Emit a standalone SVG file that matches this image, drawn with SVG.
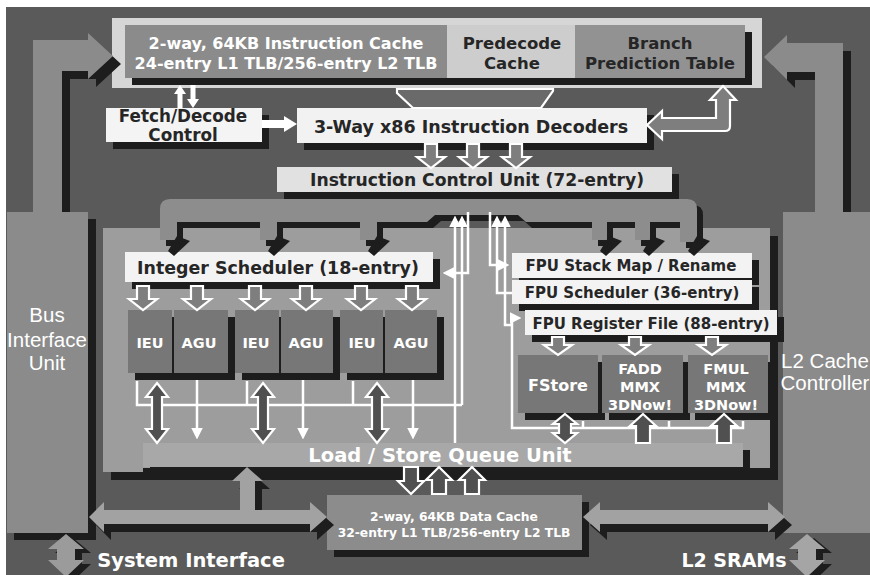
<svg xmlns="http://www.w3.org/2000/svg" width="870" height="575" viewBox="0 0 870 575">
<defs>
<style>
.t{font-family:"DejaVu Sans",Verdana,sans-serif;font-weight:bold;text-anchor:middle}
.w{fill:#fff}
.d{fill:#262626}
.a{font-family:"Liberation Sans",Arial,sans-serif;text-anchor:middle;fill:#fff}
.sh{fill:#1d1d1d}
.wb{fill:#f3f3f3}
.unit{fill:#777}
.ln{fill:none;stroke:#fff;stroke-width:2.5}
.ba{stroke:#fff;stroke-width:2.2}
.g1{fill:#7e7e7e}
.g2{fill:#505050}
.bus{fill:#8b8b8b}
.busl{fill:#a2a2a2}
</style>
<marker id="wh" viewBox="0 0 10 10" refX="7" refY="5" markerWidth="4.6" markerHeight="4.6" orient="auto" markerUnits="strokeWidth">
<path d="M0,0L10,5L0,10Z" fill="#fff"/>
</marker>
<path id="dn" d="M-6,0H6V13H14L0,24L-14,13H-6Z"/>
<path id="dnS" d="M-6,0H6V8H14L0,18L-14,8H-6Z"/>
<path id="lsDn" d="M-7,0H7V14H13L0,27L-13,14H-7Z"/>
<path id="lsUp" d="M0,0L13,13H7V27H-7V13H-13Z"/>
<path id="dbl" d="M0,0L11,14H5V46H11L0,60L-11,46H-5V14H-11Z"/>
<path id="dblS" d="M0,0L12,10H6V19H12L0,29L-12,19H-6V10H-12Z"/>
<path id="upS" d="M0,0L13,12H7V29H-7V12H-13Z"/>
<path id="tip" d="M17,0L30,5L14,20L8,15Z"/>
<path id="lbus" d="M33,212V40H88V33L113,56L88,79V71H62V212Z"/>
<path id="rbus" d="M843,212V43H787V35L764,57L787,80V72H815V212Z"/>
<path id="sysArr" d="M89,517L104,502V510H240V481H232L247,467L263,481H255V510H310V502L327,517L310,532V524H104V532Z"/>
<path id="l2Arr" d="M583,517L600,502V510H768V502L785,517L768,532V524H600V532Z"/>
<path id="vArr" d="M0,0L18,15H9V26H18L0,43L-18,26H-9V15H-18Z"/>
<path id="icuBus" d="M160,240V209Q160,199 170,199H687Q697,199 697,209V242H680V222H650V240H635V222H607V240H592V222H526L518,215H435L427,222H377V240H360V222H277V240H260V222H177V240Z"/>
</defs>

<!-- backdrop -->
<rect x="0" y="0" width="870" height="575" fill="#fff"/>
<rect x="6" y="7" width="864" height="568" fill="#5a5a5a"/>

<!-- instruction fetch row -->
<g id="fetch-row">
<rect x="112" y="18" width="650" height="70" fill="#d6d6d6"/>
<rect x="132" y="32" width="620" height="53" class="sh"/>
</g>
<g id="icache">
<rect x="125" y="25" width="322" height="53" fill="#8b8b8b"/>
<text class="t w" x="286" y="49" font-size="16">2-way, 64KB Instruction Cache</text>
<text class="t w" x="286" y="69" font-size="16">24-entry L1 TLB/256-entry L2 TLB</text>
</g>
<g id="predecode">
<rect x="447" y="25" width="128" height="53" fill="#cdcdcd"/>
<text class="t d" x="512" y="49" font-size="16.5">Predecode</text>
<text class="t d" x="512" y="69" font-size="16.5">Cache</text>
</g>
<g id="bpt">
<rect x="575" y="25" width="170" height="53" fill="#929292"/>
<text class="t d" x="660" y="49" font-size="16.5">Branch</text>
<text class="t d" x="660" y="69" font-size="16.5">Prediction Table</text>
</g>

<!-- bus interface unit -->
<g id="biu">
<use href="#lbus" class="sh" transform="translate(8,8)"/>
<use href="#lbus" class="bus"/>
<rect x="14" y="219" width="82" height="321" class="sh"/>
<rect x="7" y="212" width="81" height="321" class="bus"/>
<text class="a" x="47" y="322" font-size="20.5">Bus</text>
<text class="a" x="47" y="347" font-size="20.5">Interface</text>
<text class="a" x="47" y="370" font-size="20.5">Unit</text>
</g>

<!-- L2 cache controller -->
<g id="l2cc">
<use href="#rbus" class="sh" transform="translate(8,8)"/>
<use href="#rbus" class="bus"/>
<rect x="783" y="212" width="87" height="321" class="bus"/>
<text class="a" x="825" y="368" font-size="20.5">L2 Cache</text>
<text class="a" x="825" y="390" font-size="20.5">Controller</text>
</g>

<g id="fetch-ctl">
<rect x="113" y="115" width="156" height="34" class="sh"/>
<rect x="106" y="108" width="156" height="34" fill="#f4f4f4"/>
<text class="t d" x="183" y="122" font-size="16.8">Fetch/Decode</text>
<text class="t d" x="183" y="141" font-size="16.8">Control</text>
</g>

<g id="decoders">
<rect x="304" y="115" width="350" height="35" class="sh"/>
<rect x="297" y="108" width="350" height="35" fill="#f2f2f2"/>
<text class="t d" x="471" y="133" font-size="17.5">3-Way x86 Instruction Decoders</text>
</g>

<g id="icu">
<rect x="284" y="174" width="395" height="25" class="sh"/>
<rect x="277" y="167" width="395" height="25" fill="#e1e1e1"/>
<text class="t d" x="477" y="186" font-size="17.2">Instruction Control Unit (72-entry)</text>
</g>

<!-- execution core backdrop -->
<g id="core">
<rect x="111" y="236" width="667" height="244" class="sh"/>
<rect x="103" y="228" width="667" height="240" fill="#9d9d9d"/>
<rect x="103" y="440" width="40" height="32" fill="#9d9d9d"/>
</g>
<g id="lsq">
<rect x="150" y="450" width="600" height="28" class="sh"/>
<rect x="143" y="443" width="600" height="24" fill="#a8a8a8"/>
</g>

<g id="int-sched">
<rect x="132" y="259" width="308" height="30" class="sh"/>
<rect x="125" y="252" width="308" height="30" class="wb"/>
<text class="t d" x="278" y="274" font-size="17.4">Integer Scheduler (18-entry)</text>
</g>

<g id="int-units">
<rect x="135" y="317" width="100" height="63" class="sh"/>
<rect x="128" y="310" width="44" height="63" class="unit"/>
<rect x="174" y="310" width="54" height="63" class="unit"/>
<rect x="242" y="317" width="98" height="63" class="sh"/>
<rect x="235" y="310" width="44" height="63" class="unit"/>
<rect x="281" y="310" width="52" height="63" class="unit"/>
<rect x="347" y="317" width="97" height="63" class="sh"/>
<rect x="340" y="310" width="43" height="63" class="unit"/>
<rect x="385" y="310" width="52" height="63" class="unit"/>
<text class="t w" x="150" y="348" font-size="14.5">IEU</text>
<text class="t w" x="199" y="348" font-size="14.5">AGU</text>
<text class="t w" x="256" y="348" font-size="14.5">IEU</text>
<text class="t w" x="306" y="348" font-size="14.5">AGU</text>
<text class="t w" x="362" y="348" font-size="14.5">IEU</text>
<text class="t w" x="411" y="348" font-size="14.5">AGU</text>
</g>

<g id="fpu-rename">
<rect x="519" y="260" width="240" height="25" class="sh"/>
<rect x="512" y="253" width="240" height="25" class="wb"/>
<text class="t d" x="631" y="271" font-size="15">FPU Stack Map / Rename</text>
</g>
<g id="fpu-sched">
<rect x="519" y="287" width="240" height="24" class="sh"/>
<rect x="512" y="280" width="240" height="24" class="wb"/>
<text class="t d" x="632" y="298" font-size="15">FPU Scheduler (36-entry)</text>
</g>
<g id="fpu-regs">
<rect x="532" y="317" width="252" height="25" class="sh"/>
<rect x="525" y="310" width="252" height="25" class="wb"/>
<text class="t d" x="651" y="329" font-size="15">FPU Register File (88-entry)</text>
</g>

<g id="fpu-units">
<rect x="525" y="362" width="80" height="58" class="sh"/>
<rect x="518" y="355" width="80" height="58" class="unit"/>
<rect x="609" y="362" width="81" height="58" class="sh"/>
<rect x="602" y="355" width="81" height="58" class="unit"/>
<rect x="695" y="362" width="80" height="58" class="sh"/>
<rect x="688" y="355" width="80" height="58" class="unit"/>
<text class="t w" x="558" y="391" font-size="16">FStore</text>
<text class="t w" x="640" y="374" font-size="14.5">FADD</text>
<text class="t w" x="640" y="392" font-size="14.5">MMX</text>
<text class="t w" x="640" y="410" font-size="14.5">3DNow!</text>
<text class="t w" x="726" y="374" font-size="14.5">FMUL</text>
<text class="t w" x="726" y="392" font-size="14.5">MMX</text>
<text class="t w" x="726" y="410" font-size="14.5">3DNow!</text>
</g>

<g id="dcache">
<rect x="334" y="502" width="255" height="55" class="sh"/>
<rect x="327" y="495" width="255" height="55" fill="#8c8c8c"/>
<text class="t w" x="454" y="521" font-size="12.3">2-way, 64KB Data Cache</text>
<text class="t w" x="454" y="537" font-size="12.3">32-entry L1 TLB/256-entry L2 TLB</text>
</g>

<!-- connectors -->
<g id="connectors">
<!-- fetch control to cache and decoders -->
<path d="M180,85L186,94H182.5V108H177.5V94H174Z" fill="#fff"/>
<path d="M193,108L199,99H195.5V85H190.5V99H187Z" fill="#fff"/>
<path d="M262,120H284V116L297,124L284,132V128H262Z" fill="#fff"/>
<!-- predecode into decoders -->
<path d="M397,89H553V91L541,108H413L397,93Z" fill="#6a6a6a" stroke="#fff" stroke-width="2.2"/>
<!-- decoders to branch prediction -->
<path d="M647,125L662,111V118H716V100H710L723,86L736,100H730V126Q730,131 725,131H662V139Z" class="g1 ba"/>
<!-- decoders to ICU -->
<use href="#dn" x="431" y="144" class="g1 ba"/>
<use href="#dn" x="473" y="144" class="g1 ba"/>
<use href="#dn" x="516" y="144" class="g1 ba"/>

<!-- ICU dispatch bus -->
<use href="#icuBus" class="sh" transform="translate(6,6)"/>
<use href="#icuBus" fill="#8d8d8d"/>
<use href="#tip" x="160" y="236" class="sh"/>
<use href="#tip" x="260" y="236" class="sh"/>
<use href="#tip" x="360" y="236" class="sh"/>
<use href="#tip" x="592" y="236" class="sh"/>
<use href="#tip" x="635" y="236" class="sh"/>
<use href="#tip" x="680" y="236" class="sh"/>

<!-- scheduler to integer units -->
<use href="#dn" x="143" y="286" class="g1 ba"/>
<use href="#dn" x="197" y="286" class="g1 ba"/>
<use href="#dn" x="255" y="286" class="g1 ba"/>
<use href="#dn" x="306" y="286" class="g1 ba"/>
<use href="#dn" x="361" y="286" class="g1 ba"/>
<use href="#dn" x="412" y="286" class="g1 ba"/>

<!-- register file to FPU units -->
<use href="#dnS" x="558" y="337" class="g1 ba"/>
<use href="#dnS" x="635" y="337" class="g1 ba"/>
<use href="#dnS" x="712" y="337" class="g1 ba"/>

<!-- integer result bus -->
<path class="ln" d="M137,381V405H462M247,381V405M353,381V405"/>
<path class="ln" d="M462,405V219" marker-end="url(#wh)"/>
<path class="ln" d="M455,443V219" marker-end="url(#wh)"/>
<path class="ln" d="M468,212V273H446" marker-end="url(#wh)"/>
<path class="ln" d="M197,380V436" marker-end="url(#wh)"/>
<path class="ln" d="M303,380V436" marker-end="url(#wh)"/>
<path class="ln" d="M413,380V436" marker-end="url(#wh)"/>
<use href="#dbl" x="157" y="383" class="g2 ba"/>
<use href="#dbl" x="263" y="383" class="g2 ba"/>
<use href="#dbl" x="377" y="383" class="g2 ba"/>

<!-- FPU control and result lines -->
<path class="ln" d="M490,212V265H506" marker-end="url(#wh)"/>
<path class="ln" d="M512,293H497V219" marker-end="url(#wh)"/>
<path class="ln" d="M512,325H505V219" marker-end="url(#wh)"/>
<path class="ln" d="M512,318H518" marker-end="url(#wh)"/>
<path class="ln" d="M512,318V428H743V421M583,428V421M669,428V421"/>
<use href="#dblS" x="565" y="414" class="g2 ba"/>
<use href="#upS" x="643" y="414" class="g2 ba"/>
<use href="#upS" x="724" y="414" class="g2 ba"/>

<!-- load/store queue to data cache -->
<use href="#lsDn" x="411" y="467" class="g2 ba"/>
<use href="#lsUp" x="439" y="467" class="g2 ba"/>
<use href="#lsUp" x="472" y="467" class="g2 ba"/>

<!-- system and L2 buses -->
<use href="#sysArr" class="sh" transform="translate(7,8)"/>
<use href="#sysArr" class="busl"/>
<use href="#l2Arr" class="sh" transform="translate(7,8)"/>
<use href="#l2Arr" class="busl"/>
<use href="#vArr" x="66" y="534" class="sh" transform="translate(7,4)"/>
<use href="#vArr" x="66" y="534" fill="#9b9b9b"/>
<use href="#vArr" x="807" y="534" class="sh" transform="translate(7,4)"/>
<use href="#vArr" x="807" y="534" fill="#a5a5a5"/>
</g>

<g id="lsq-label">
<text class="t w" x="440" y="462" font-size="19.5">Load / Store Queue Unit</text>
</g>
<g id="sys-if">
<text class="t w" x="191" y="567" font-size="19.5">System Interface</text>
</g>
<g id="l2-srams">
<text class="t w" x="734" y="567" font-size="19">L2 SRAMs</text>
</g>
</svg>
